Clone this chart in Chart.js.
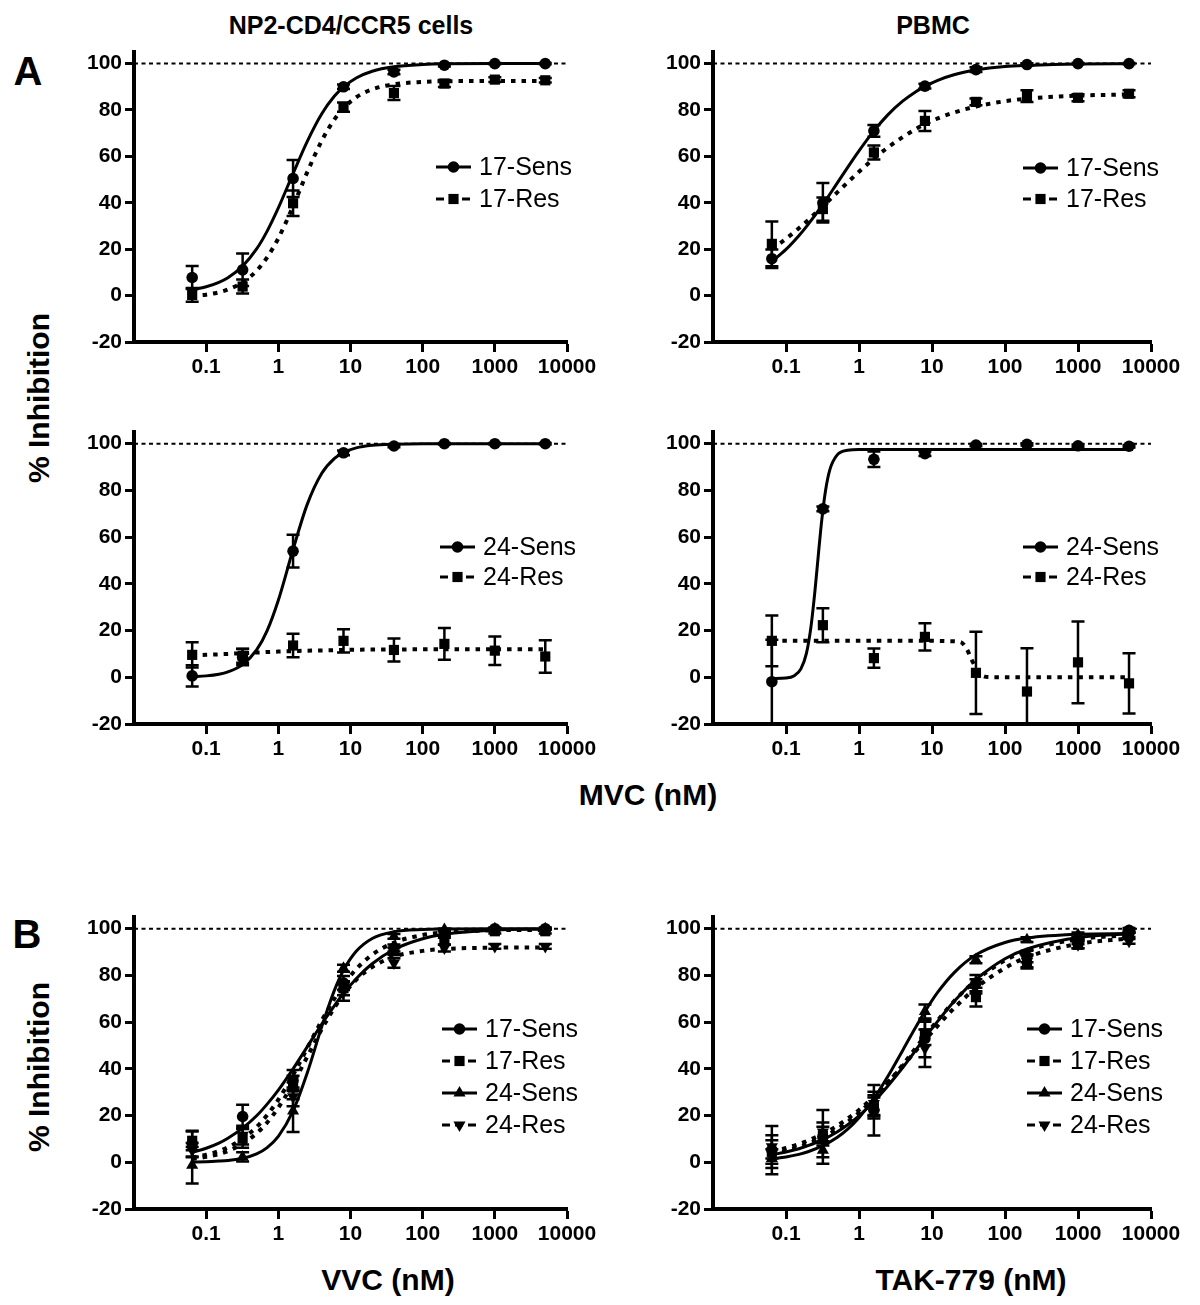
<!DOCTYPE html>
<html><head><meta charset="utf-8">
<script src="https://cdn.jsdelivr.net/npm/chart.js@4.4.1/dist/chart.umd.min.js"></script>
<style>
html,body{margin:0;padding:0;background:#fff;}
body{width:1200px;height:1305px;position:relative;overflow:hidden;font-family:"Liberation Sans",Arial,sans-serif;color:#000;}
canvas{position:absolute;}
.lbl{position:absolute;font-weight:bold;white-space:nowrap;transform:translate(-50%,-50%);line-height:1;}
.rot{transform:translate(-50%,-50%) rotate(-90deg);}
</style></head><body>
<div class="lbl" style="left:351px;top:25px;font-size:25px">NP2-CD4/CCR5 cells</div>
<div class="lbl" style="left:933px;top:25px;font-size:25px">PBMC</div>
<div class="lbl" style="left:28px;top:71px;font-size:40px">A</div>
<div class="lbl" style="left:27px;top:934px;font-size:40px">B</div>
<div class="lbl rot" style="left:39px;top:398px;font-size:30px">% Inhibition</div>
<div class="lbl rot" style="left:39px;top:1067px;font-size:30px">% Inhibition</div>
<div class="lbl" style="left:648px;top:795px;font-size:30px">MVC (nM)</div>
<div class="lbl" style="left:388px;top:1280px;font-size:30px">VVC (nM)</div>
<div class="lbl" style="left:971px;top:1280px;font-size:30px">TAK-779 (nM)</div>
<script>
// ---------- data ----------
const DOSES = [0.064, 0.32, 1.6, 8, 40, 200, 1000, 5000];
const X_TICKS = [0.1, 1, 10, 100, 1000, 10000];
const Y_TICKS = [-20, 0, 20, 40, 60, 80, 100];
const X_RANGE = [0.01, 10000];
const REF_Y = [100, 100];
const FIT_X = [0.064, 0.1, 0.15, 0.2, 0.32, 0.5, 0.7, 1, 1.6, 2.5, 4, 6, 8, 12, 20, 40, 100, 200, 1000, 5000];
const FIT_X_STEEP = [0.064, 0.1, 0.13, 0.16, 0.19, 0.22, 0.25, 0.28, 0.31, 0.35, 0.4, 0.5, 0.7, 1, 10, 100, 1000, 5000];
const FIT_X_DROP = [0.064, 1, 10, 20, 25, 30, 35, 40, 45, 50, 60, 100, 1000, 5000];

// Panel A, NP2-CD4/CCR5 cells, 17
const NP2_S17 = [7.8, 11.1, 50.5, 90, 96.4, 99.3, 100, 100];
const NP2_S17_ERR = [5, 7, 8, 1, 1, 0.5, 0.3, 0.3];
const NP2_R17 = [0.3, 3.9, 39.8, 81.2, 87.3, 91.4, 93.1, 92.8];
const NP2_R17_ERR = [3, 3, 5.5, 2, 3, 1.5, 1, 1];
const NP2_S17_FIT = [2.6, 3.8, 5.7, 7.7, 12.7, 20.1, 27.8, 37.8, 52.6, 66.3, 78.4, 86, 89.9, 93.8, 96.7, 98.6, 99.6, 99.9, 100, 100];
const NP2_R17_FIT = [-0.2, 0.4, 1.4, 2.6, 5.7, 10.7, 16.5, 24.7, 38.5, 53, 66.8, 76, 80.8, 85.5, 88.9, 91.1, 92.1, 92.4, 92.5, 92.5];
// Panel A, PBMC, 17
const PB_S17 = [15.9, 40, 71, 90.3, 97.4, 99.6, 100, 100];
const PB_S17_ERR = [4, 8.5, 2.5, 1, 1, 0.5, 0.3, 0.3];
const PB_R17 = [22.3, 37.3, 61.7, 75.3, 83.5, 86, 85.3, 87];
const PB_R17_ERR = [9.6, 5, 3, 4.3, 1.5, 2.5, 1.5, 1.5];
const PB_S17_FIT = [14.7, 19.9, 25.8, 30.6, 39.3, 48.4, 55.3, 62.4, 71, 78, 83.9, 87.9, 90.2, 92.8, 95.2, 97.2, 98.7, 99.2, 99.8, 99.9];
const PB_R17_FIT = [20, 24.5, 29, 32.5, 38.5, 44.4, 48.8, 53.4, 59.1, 63.9, 68.4, 71.8, 73.9, 76.4, 78.9, 81.5, 83.8, 84.9, 86.2, 86.7];
// Panel A, NP2-CD4/CCR5 cells, 24
const NP2_S24 = [0.6, 8.6, 54, 96.1, 99, 100, 100, 100];
const NP2_S24_ERR = [4.5, 3.5, 7, 1, 0.5, 0.3, 0.3, 0.3];
const NP2_R24 = [9.6, 9.2, 13.6, 15.6, 11.7, 14.3, 11.4, 8.9];
const NP2_R24_ERR = [5.4, 3, 5, 5, 4.9, 6.8, 6.1, 7];
const NP2_S24_FIT = [0.3, 0.6, 1.3, 2.3, 5.4, 11.7, 20, 33, 54.7, 73.8, 87.3, 93.7, 96.2, 98.2, 99.3, 99.8, 100, 100, 100, 100];
const NP2_R24_FIT = [9.3, 9.6, 9.8, 10, 10.3, 10.6, 10.8, 11, 11.2, 11.4, 11.5, 11.6, 11.7, 11.8, 11.9, 11.9, 12, 12, 12, 12];
// Panel A, PBMC, 24
const PB_S24 = [-1.9, 72.1, 93.3, 95.7, 99.4, 99.7, 99.1, 98.9];
const PB_S24_ERR = [18, 1, 3.3, 1, 0.5, 0.5, 0.5, 0.5];
const PB_R24 = [15.6, 22.3, 8.2, 17.3, 1.9, -6.1, 6.4, -2.6];
const PB_R24_ERR = [10.9, 7.3, 4.1, 5.8, 17.6, 18.5, 17.5, 12.9];
const PB_S24_FIT = [-0.5, -0.3, 0.7, 3.6, 10.1, 21.7, 37.4, 53.8, 67.7, 80.4, 89, 95.1, 97.2, 97.5, 97.5, 97.5, 97.5, 97.5];
const PB_R24_FIT = [15.6, 15.6, 15.6, 15.4, 15, 12, 7.5, 4, 1.8, 0.6, 0.1, 0, 0, 0];
// Panel B, VVC
const VVC_S17 = [8, 19.6, 35, 76.7, 91.7, 98, 100, 100];
const VVC_S17_ERR = [5.5, 5, 4.5, 3, 1.5, 1, 0.5, 0.5];
const VVC_R17 = [9.2, 10.2, 32, 74.5, 90.3, 94.6, 98.9, 98.9];
const VVC_R17_ERR = [4, 4, 5, 3, 1.5, 1.5, 1, 1];
const VVC_S24 = [-1.3, 2.3, 22, 83.1, 96.7, 99.6, 100, 100];
const VVC_S24_ERR = [7.8, 2, 9, 1.5, 1, 0.5, 0.3, 0.3];
const VVC_R24 = [5.2, 11.6, 28, 73.1, 85.3, 91.7, 92.4, 92.4];
const VVC_R24_ERR = [3, 4, 4, 4, 2, 1.5, 1, 1];
const VVC_S17_FIT = [4.2, 6, 8.2, 10.3, 14.6, 19.9, 24.9, 30.9, 40, 49.3, 59.2, 67.1, 72.3, 78.6, 85, 91.1, 95.7, 97.6, 99.4, 99.8];
const VVC_R17_FIT = [2.1, 3.2, 4.8, 6.4, 10.1, 15.1, 20.2, 26.8, 37.4, 48.7, 60.7, 70.1, 76, 82.7, 88.9, 94, 97.3, 98.4, 99.3, 99.5];
const VVC_S24_FIT = [0.1, 0.2, 0.5, 0.8, 1.7, 3.6, 6.3, 11.1, 22, 38, 58.1, 73.7, 82.2, 90.3, 95.8, 98.7, 99.7, 99.9, 100, 100];
const VVC_R24_FIT = [1.4, 2.3, 3.5, 4.8, 7.9, 12.4, 17, 23.4, 33.7, 45, 57, 66.2, 71.8, 78.1, 83.6, 88, 90.5, 91.3, 91.9, 92];
// Panel B, TAK-779
const TAK_S17 = [5.2, 10.9, 22.3, 53, 76.7, 88.1, 94.8, 99.3];
const TAK_S17_ERR = [10.3, 11.5, 10.8, 8, 3.5, 2.5, 1.5, 1];
const TAK_R17 = [4.4, 11.2, 23.7, 55.2, 70.7, 86, 93.1, 97.4];
const TAK_R17_ERR = [5, 4, 5, 5, 4, 3, 1.5, 1];
const TAK_S24 = [1.6, 5.2, 23.7, 64.5, 86.7, 95.3, 97.4, 98.9];
const TAK_S24_ERR = [4, 3, 4, 3, 1.5, 1, 1, 0.5];
const TAK_R24 = [6.6, 13, 25.2, 48.8, 75.3, 86, 93.1, 94.6];
const TAK_R24_ERR = [5, 4, 5, 8, 3, 2.5, 1.5, 1];
const TAK_S17_FIT = [3.2, 4.4, 5.8, 7.1, 9.7, 13, 16.1, 19.9, 26, 32.8, 40.7, 48, 53.3, 60.4, 68.8, 78.2, 87.1, 91.3, 96.2, 97.8];
const TAK_R17_FIT = [3.6, 4.9, 6.5, 7.9, 10.7, 14.1, 17.3, 21.2, 27.3, 34.1, 41.8, 49, 54, 60.8, 68.9, 77.9, 86.4, 90.6, 95.5, 97.2];
const TAK_S24_FIT = [1.5, 2.3, 3.4, 4.5, 7.1, 10.6, 14.2, 19.1, 27.3, 36.9, 48.1, 57.9, 64.5, 72.8, 81.1, 88.8, 94.1, 96, 97.6, 97.9];
const TAK_R24_FIT = [4.6, 6.1, 7.8, 9.3, 12.2, 15.6, 18.7, 22.4, 28.2, 34.3, 41.3, 47.7, 52.2, 58.5, 65.9, 74.6, 83.2, 87.8, 93.5, 95.8];

// ---------- styles ----------
const FONT = '"Liberation Sans", Arial, sans-serif';
const STYLE = {
  circle: {pointStyle: 'circle', radius: 5.8, rot: 0, dashed: false},
  square: {pointStyle: 'rect', radius: 7.2, rot: 0, dashed: true},
  triUp: {pointStyle: 'triangle', radius: 7, rot: 0, dashed: false},
  triDown: {pointStyle: 'triangle', radius: 7, rot: 180, dashed: true}
};
const SOLID_W = 3, DOT_W = 4, DOT_DASH = [4.5, 6];
const YW = 72, XH = 45, PT = 16, PR = 38;

const PANELS = [
  {area: {l: 134, r: 567, t: 52, b: 342}, legend: {x: 302, y: 115, dy: 32},
   series: [['17-Sens', 'circle', NP2_S17, NP2_S17_ERR, FIT_X, NP2_S17_FIT], ['17-Res', 'square', NP2_R17, NP2_R17_ERR, FIT_X, NP2_R17_FIT]]},
  {area: {l: 713, r: 1151, t: 52, b: 342}, legend: {x: 310, y: 116, dy: 31},
   series: [['17-Sens', 'circle', PB_S17, PB_S17_ERR, FIT_X, PB_S17_FIT], ['17-Res', 'square', PB_R17, PB_R17_ERR, FIT_X, PB_R17_FIT]]},
  {area: {l: 134, r: 567, t: 432, b: 724}, legend: {x: 306, y: 115, dy: 30},
   series: [['24-Sens', 'circle', NP2_S24, NP2_S24_ERR, FIT_X, NP2_S24_FIT], ['24-Res', 'square', NP2_R24, NP2_R24_ERR, FIT_X, NP2_R24_FIT]]},
  {area: {l: 713, r: 1151, t: 432, b: 724}, legend: {x: 310, y: 115, dy: 30},
   series: [['24-Sens', 'circle', PB_S24, PB_S24_ERR, FIT_X_STEEP, PB_S24_FIT], ['24-Res', 'square', PB_R24, PB_R24_ERR, FIT_X_DROP, PB_R24_FIT]]},
  {area: {l: 134, r: 567, t: 917, b: 1209}, legend: {x: 308, y: 112, dy: 32},
   series: [['17-Sens', 'circle', VVC_S17, VVC_S17_ERR, FIT_X, VVC_S17_FIT], ['17-Res', 'square', VVC_R17, VVC_R17_ERR, FIT_X, VVC_R17_FIT],
            ['24-Sens', 'triUp', VVC_S24, VVC_S24_ERR, FIT_X, VVC_S24_FIT], ['24-Res', 'triDown', VVC_R24, VVC_R24_ERR, FIT_X, VVC_R24_FIT]]},
  {area: {l: 713, r: 1151, t: 917, b: 1209}, legend: {x: 314, y: 112, dy: 32},
   series: [['17-Sens', 'circle', TAK_S17, TAK_S17_ERR, FIT_X, TAK_S17_FIT], ['17-Res', 'square', TAK_R17, TAK_R17_ERR, FIT_X, TAK_R17_FIT],
            ['24-Sens', 'triUp', TAK_S24, TAK_S24_ERR, FIT_X, TAK_S24_FIT], ['24-Res', 'triDown', TAK_R24, TAK_R24_ERR, FIT_X, TAK_R24_FIT]]}
];

function xy(xs, ys) { return xs.map((x, i) => ({x: x, y: ys[i]})); }

function drawMarker(ctx, style, radius, rot, x, y) {
  ctx.beginPath();
  if (style === 'circle') {
    ctx.arc(x, y, radius, 0, Math.PI * 2);
  } else if (style === 'rect') {
    const s = Math.SQRT1_2 * radius;
    ctx.rect(x - s, y - s, 2 * s, 2 * s);
  } else {
    let rad = rot * Math.PI / 180;
    for (let k = 0; k < 3; k++) {
      const px = x + Math.sin(rad) * radius, py = y - Math.cos(rad) * radius;
      if (k === 0) ctx.moveTo(px, py); else ctx.lineTo(px, py);
      rad += Math.PI * 2 / 3;
    }
    ctx.closePath();
  }
  ctx.fill();
}

const errorBarPlugin = {
  id: 'errorBars',
  afterDatasetsDraw(chart) {
    const ctx = chart.ctx, a = chart.chartArea;
    const xs = chart.scales.x, ys = chart.scales.y;
    ctx.save();
    ctx.beginPath();
    ctx.rect(a.left - 10, a.top - 2, a.right - a.left + 20, a.bottom - a.top + 2);
    ctx.clip();
    ctx.strokeStyle = '#000';
    ctx.lineWidth = 2.5;
    chart.data.datasets.forEach(ds => {
      if (!ds.errorBars) return;
      ds.data.forEach((p, j) => {
        const e = ds.errorBars[j];
        if (!e) return;
        const x = xs.getPixelForValue(p.x);
        const y1 = ys.getPixelForValue(p.y + e), y2 = ys.getPixelForValue(p.y - e);
        ctx.beginPath();
        ctx.moveTo(x, y1); ctx.lineTo(x, y2);
        ctx.moveTo(x - 6.5, y1); ctx.lineTo(x + 6.5, y1);
        ctx.moveTo(x - 6.5, y2); ctx.lineTo(x + 6.5, y2);
        ctx.stroke();
      });
    });
    ctx.restore();
  }
};

const legendPlugin = {
  id: 'panelLegend',
  afterDraw(chart, args, opts) {
    const ctx = chart.ctx, a = chart.chartArea;
    ctx.save();
    opts.items.forEach((it, i) => {
      const st = STYLE[it.style];
      const x0 = a.left + opts.x, y = a.top + opts.y + i * opts.dy;
      ctx.strokeStyle = '#000'; ctx.fillStyle = '#000';
      ctx.lineWidth = SOLID_W;
      ctx.setLineDash(st.dashed ? [8, 5] : []);
      ctx.beginPath(); ctx.moveTo(x0, y); ctx.lineTo(x0 + 35, y); ctx.stroke();
      ctx.setLineDash([]);
      drawMarker(ctx, st.pointStyle, st.radius, st.rot, x0 + 17.5, y);
      ctx.font = '25px ' + FONT;
      ctx.textAlign = 'left'; ctx.textBaseline = 'middle';
      ctx.fillText(it.label, x0 + 43, y + 1);
    });
    ctx.restore();
  }
};

const tickFont = {family: FONT, size: 21, weight: 'bold'};

PANELS.forEach((p) => {
  const a = p.area;
  const w = YW + (a.r - a.l) + PR, h = PT + (a.b - a.t) + XH;
  const cv = document.createElement('canvas');
  cv.width = w; cv.height = h;
  cv.style.left = (a.l - YW) + 'px'; cv.style.top = (a.t - PT) + 'px';
  cv.style.width = w + 'px'; cv.style.height = h + 'px';
  document.body.appendChild(cv);

  const pointSets = [], curveSets = [];
  p.series.forEach(s => {
    const [name, styleKey, vals, errs, fx, fy] = s;
    const st = STYLE[styleKey];
    pointSets.push({
      label: name, data: xy(DOSES, vals), errorBars: errs, showLine: false,
      pointStyle: st.pointStyle, pointRadius: st.radius, pointRotation: st.rot,
      pointBackgroundColor: '#000', pointBorderColor: '#000', pointBorderWidth: 0,
      borderColor: '#000', backgroundColor: '#000'
    });
    curveSets.push({
      label: name + ' fit', data: xy(fx, fy), pointRadius: 0, fill: false,
      borderColor: '#000', borderWidth: st.dashed ? DOT_W : SOLID_W,
      borderDash: st.dashed ? DOT_DASH : [], borderCapStyle: 'butt',
      cubicInterpolationMode: 'monotone'
    });
  });
  const refSet = {
    label: 'ref', data: xy(X_RANGE, REF_Y), pointRadius: 0, borderColor: '#000',
    borderWidth: 2, borderDash: [4, 3.5], fill: false
  };

  new Chart(cv, {
    type: 'line',
    data: {datasets: pointSets.concat(curveSets, [refSet])},
    plugins: [errorBarPlugin, legendPlugin],
    options: {
      responsive: false, animation: false, devicePixelRatio: 1, events: [],
      layout: {padding: {top: PT, right: PR, left: 0, bottom: 0}},
      plugins: {
        legend: {display: false}, tooltip: {enabled: false},
        panelLegend: {x: p.legend.x, y: p.legend.y, dy: p.legend.dy,
                      items: p.series.map(s => ({label: s[0], style: s[1]}))}
      },
      scales: {
        x: {
          type: 'logarithmic', min: X_RANGE[0], max: X_RANGE[1], position: 'bottom',
          afterBuildTicks: s => { s.ticks = X_TICKS.map(v => ({value: v})); },
          afterFit: s => { s.height = XH; },
          ticks: {color: '#000', font: tickFont, padding: 3, maxRotation: 0, autoSkip: false,
                  callback: v => String(v)},
          grid: {display: true, drawOnChartArea: false, drawTicks: true, tickLength: 10,
                 tickWidth: 3, tickColor: '#000', color: '#000'},
          border: {display: true, color: '#000', width: 4}
        },
        y: {
          type: 'linear', min: -20, max: 105, position: 'left',
          afterBuildTicks: s => { s.ticks = Y_TICKS.map(v => ({value: v})); },
          afterFit: s => { s.width = YW; },
          ticks: {color: '#000', font: tickFont, padding: 3, callback: v => String(v)},
          grid: {display: true, drawOnChartArea: false, drawTicks: true, tickLength: 9,
                 tickWidth: 3, tickColor: '#000', color: '#000'},
          border: {display: true, color: '#000', width: 4}
        }
      }
    }
  });
});
</script>
</body></html>
